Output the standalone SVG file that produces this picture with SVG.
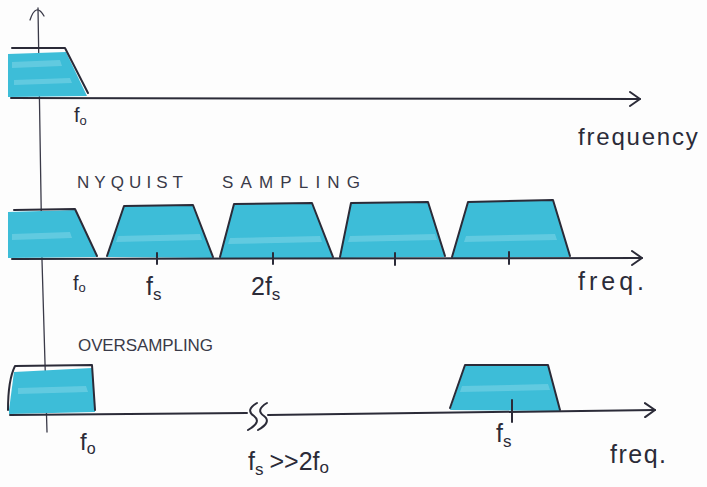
<svg xmlns="http://www.w3.org/2000/svg" width="707" height="487" viewBox="0 0 707 487">
  <style>
    .ink { fill: none; stroke: #2b2b38; stroke-width: 2; stroke-linecap: round; stroke-linejoin: round; }
    .thin { fill: none; stroke: #3a3a48; stroke-width: 1.3; stroke-linecap: round; }
    .band { fill: #3dbdd8; }
    .hl { fill: #7fd6e8; opacity: 0.55; }
    .lbl { font-family: "Liberation Sans", "DejaVu Sans", sans-serif; fill: #2b2b38; }
    .cap { font-family: "Liberation Sans", "DejaVu Sans", sans-serif; fill: #3a3a48; font-size: 17px; letter-spacing: 2px; }
  </style>
  <defs>
    <marker id="arr" viewBox="0 0 12 16" refX="11" refY="8" markerWidth="12" markerHeight="16" markerUnits="userSpaceOnUse" orient="auto">
      <path d="M1 1 L11 8 L1 15" fill="none" stroke="#2b2b38" stroke-width="2" stroke-linecap="round" stroke-linejoin="round"/>
    </marker>
  </defs>
  <rect width="707" height="487" fill="#fdfdfd"/>

  <!-- vertical axis -->
  <g id="y-axis">
    <path class="thin" d="M47 432 L42 260 L38 8"/>
    <path class="thin" d="M30 20 Q36 2 44 16"/>
  </g>

  <!-- baseband spectrum -->
  <g id="baseband">
    <path class="band" d="M8 54 L66 52 L87 96 L8 97 Z"/>
    <path class="hl" d="M12 62 L60 60 L62 66 L12 68 Z"/>
    <path class="hl" d="M14 80 L70 78 L72 83 L14 85 Z"/>
    <path class="ink" d="M12 48 L65 48 L88 93"/>
    <path class="ink" d="M11 98 L640 99" marker-end="url(#arr)"/>
    <text class="lbl" x="74" y="122" font-size="20">f<tspan font-size="13" dy="3">o</tspan></text>
    <text class="lbl" x="578" y="145" font-size="24" letter-spacing="1.8">frequency</text>
  </g>

  <!-- Nyquist sampling -->
  <g id="nyquist">
    <text class="cap" x="77" y="188" textLength="108">NYQUIST</text>
    <text class="cap" x="222" y="188" textLength="140">SAMPLING</text>
    <path class="band" d="M8 212 L75 210 L97 257 L8 258 Z"/>
    <path class="band" d="M107 257 L124 206 L193 205 L213 258 Z"/>
    <path class="band" d="M220 258 L234 204 L312 203 L333 258 Z"/>
    <path class="band" d="M340 258 L351 203 L428 202 L445 257 Z"/>
    <path class="band" d="M452 258 L468 202 L553 200 L570 257 Z"/>
    <path class="hl" d="M12 234 L70 232 L72 238 L12 240 Z"/>
    <path class="hl" d="M118 236 L200 234 L202 240 L116 242 Z"/>
    <path class="hl" d="M230 238 L320 236 L322 242 L228 244 Z"/>
    <path class="hl" d="M350 236 L435 234 L437 240 L348 242 Z"/>
    <path class="hl" d="M466 236 L555 234 L557 240 L464 242 Z"/>
    <path class="ink" d="M14 210 L75 209 L97 256"/>
    <path class="ink" d="M107 256 L124 206 L193 205 L213 257"/>
    <path class="ink" d="M220 257 L234 204 L312 203 L333 257"/>
    <path class="ink" d="M340 257 L351 203 L428 202 L445 256"/>
    <path class="ink" d="M452 257 L468 202 L553 200 L570 256"/>
    <path class="ink" d="M12 259 L642 258" marker-end="url(#arr)"/>
    <path class="ink" d="M157 253 L157 264 M273 253 L273 264 M395 253 L395 265 M509 252 L509 264"/>
    <text class="lbl" x="73" y="290" font-size="20">f<tspan font-size="13" dy="2">o</tspan></text>
    <text class="lbl" x="146" y="295" font-size="25">f<tspan font-size="17" dy="5">s</tspan></text>
    <text class="lbl" x="251" y="295" font-size="25">2f<tspan font-size="17" dy="5">s</tspan></text>
    <text class="lbl" x="578" y="290" font-size="25" letter-spacing="4">freq.</text>
  </g>

  <!-- Oversampling -->
  <g id="oversampling">
    <text class="cap" x="78" y="351" textLength="137">OVERSAMPLING</text>
    <path class="band" d="M9 410 L14 372 L92 368 L95 412 L9 414 Z"/>
    <path class="band" d="M450 410 L465 366 L548 366 L560 411 Z"/>
    <path class="hl" d="M18 388 L86 386 L88 392 L18 394 Z"/>
    <path class="hl" d="M462 386 L548 384 L550 390 L460 392 Z"/>
    <path class="ink" d="M8 410 Q8 380 15 366 L92 365 L95 410"/>
    <path class="ink" d="M450 408 L465 365 L548 365 L560 410"/>
    <path class="ink" d="M10 415 L247 413"/>
    <path class="ink" d="M257 403 Q245 410 254 416 Q262 422 248 430"/>
    <path class="ink" d="M267 403 Q255 410 264 416 Q272 422 258 430"/>
    <path class="ink" d="M268 415 L655 410" marker-end="url(#arr)"/>
    <path class="ink" d="M512 400 L512 422"/>
    <text class="lbl" x="80" y="450" font-size="24">f<tspan font-size="16" dy="4">o</tspan></text>
    <text class="lbl" x="248" y="470" font-size="25">f<tspan font-size="17" dy="5">s</tspan><tspan dy="-5" dx="6">&gt;&gt;2f</tspan><tspan font-size="17" dy="3">o</tspan></text>
    <text class="lbl" x="496" y="442" font-size="25">f<tspan font-size="17" dy="5">s</tspan></text>
    <text class="lbl" x="610" y="463" font-size="25" letter-spacing="1.5">freq.</text>
  </g>
</svg>
